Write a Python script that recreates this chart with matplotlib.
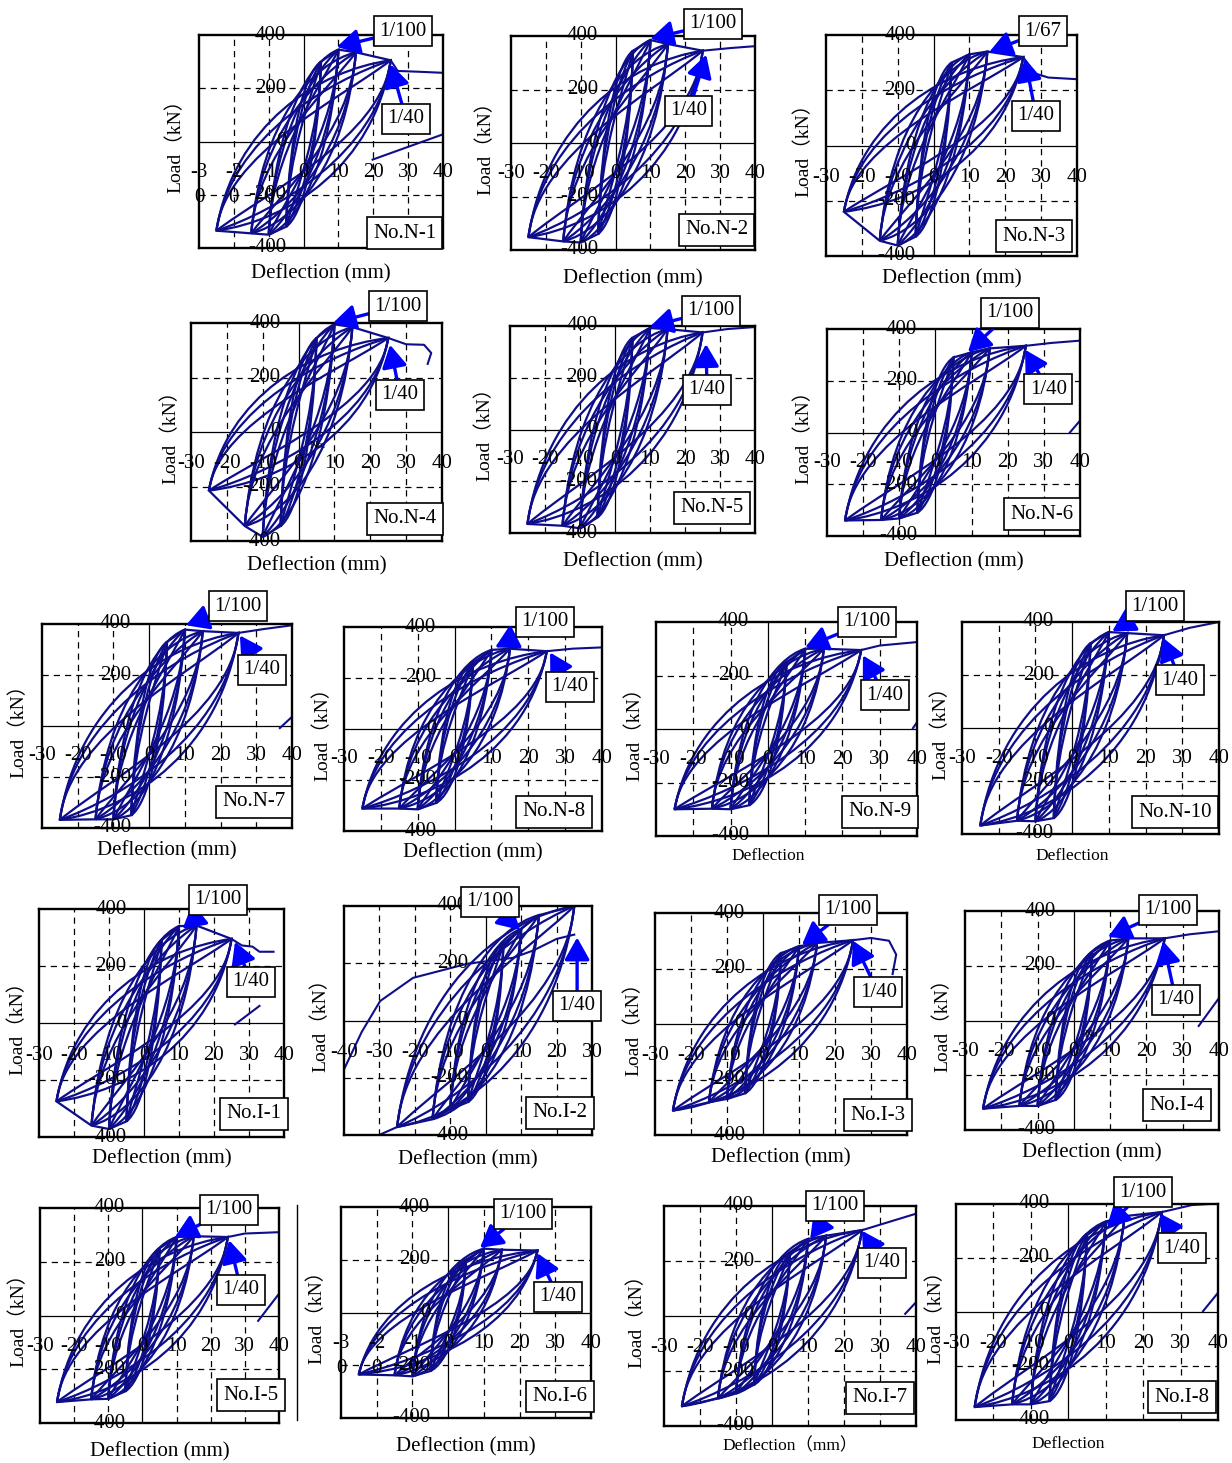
import matplotlib
matplotlib.use("Agg")
import matplotlib.pyplot as plt
from matplotlib.path import Path
from matplotlib.patches import PathPatch

plt.rcParams['font.family'] = ['Liberation Serif', 'Noto Sans CJK SC']

# ---- data ----
specimens = ["N-1", "N-2", "N-3", "N-4", "N-5", "N-6", "N-7", "N-8", "N-9", "N-10",
             "I-1", "I-2", "I-3", "I-4", "I-5", "I-6", "I-7", "I-8"]

peak_disp = [5, 10, 15, 25]        # mm, cycle amplitudes (push and pull)

# peak loads (kN) at +5, +10, +15, +25 mm
pos_load = {
    "N-1": [300, 345, 335, 305], "N-2": [345, 385, 370, 345], "N-3": [300, 330, 340, 320],
    "N-4": [345, 395, 385, 345], "N-5": [355, 392, 388, 375], "N-6": [290, 310, 325, 335],
    "N-7": [330, 378, 372, 365], "N-8": [260, 310, 315, 305], "N-9": [250, 300, 300, 295],
    "N-10": [320, 362, 358, 350], "I-1": [290, 340, 342, 295], "I-2": [270, 320, 368, 400],
    "I-3": [255, 280, 292, 302], "I-4": [250, 292, 300, 300], "I-5": [250, 292, 295, 292],
    "I-6": [200, 242, 238, 235], "I-7": [230, 280, 292, 312], "I-8": [290, 335, 355, 370],
}
# peak loads (kN) at -5, -10, -15, -25 mm
neg_load = {
    "N-1": [-320, -350, -345, -335], "N-2": [-340, -372, -368, -352], "N-3": [-330, -362, -345, -240],
    "N-4": [-345, -385, -345, -215], "N-5": [-340, -382, -372, -365], "N-6": [-310, -332, -338, -340],
    "N-7": [-350, -366, -366, -368], "N-8": [-290, -315, -312, -312], "N-9": [-285, -300, -298, -300],
    "N-10": [-340, -352, -350, -368], "I-1": [-345, -372, -360, -275], "I-2": [-285, -310, -345, -372],
    "I-3": [-250, -270, -282, -312], "I-4": [-290, -312, -312, -322], "I-5": [-282, -310, -312, -322],
    "I-6": [-222, -242, -238, -235], "I-7": [-250, -282, -300, -328], "I-8": [-330, -342, -342, -352],
}
# monotonic push after the cycles and the last unloading branch (mm, kN)
post_curves = {
    "N-1": [[(25, 305), (27, 265), (33, 262), (40, 258)], [(19.8, -68), (40, 27)]],
    "N-2": [[(25, 345), (33, 355), (40, 362)]],
    "N-3": [[(25, 320), (28, 262), (32, 246), (40, 240)]],
    "N-4": [[(25, 345), (30, 322), (35, 320), (37, 290), (36, 250)]],
    "N-5": [[(25, 375), (32, 388), (40, 396)]],
    "N-6": [[(25, 335), (32, 346), (40, 355)], [(37.2, 0), (40, 46)]],
    "N-7": [[(25, 365), (32, 380), (40, 395)], [(36.6, -8), (40, 36)]],
    "N-8": [[(25, 305), (32, 315), (40, 320)]],
    "N-9": [[(25, 295), (30, 312), (40, 325)], [(38.9, 3), (40, 25)]],
    "N-10": [[(25, 350), (32, 378), (40, 400)]],
    "I-1": [[(25, 295), (28, 272), (31, 268), (33, 250), (37, 250)], [(26, -5), (33, 60)]],
    "I-2": [[(-25, -372), (-31, -405)],
            [(-40, -171), (-35, -40), (-29.8, 68), (-20.5, 149), (-5.3, 198), (7.7, 219),
             (13.3, 244), (20, 285), (25, 300)]],
    "I-3": [[(25, 302), (30, 310), (35, 300), (37, 250), (36, 180)]],
    "I-4": [[(25, 300), (32, 315), (40, 326)], [(34.4, -20), (40, 82)]],
    "I-5": [[(25, 292), (30, 305), (40, 310)], [(33.9, -20), (39.7, 76)]],
    "I-6": [],
    "I-7": [[(25, 312), (30, 332), (40, 372)], [(37, 8), (40, 50)]],
    "I-8": [[(25, 370), (33, 396), (40, 402)], [(36, 3), (40, 71)]],
}
# drift-ratio marks: text and the point each arrow points at
small_drift_text = {"N-3": "1/67"}
small_drift_at = {
    "N-1": (9.5, 355), "N-2": (10, 390), "N-3": (15.5, 338), "N-4": (9.6, 400), "N-5": (10, 398),
    "N-6": (9, 311), "N-7": (10.3, 395), "N-8": (11, 320), "N-9": (10, 305), "N-10": (10.9, 365),
    "I-1": (11, 330), "I-2": (9.7, 316), "I-3": (10.8, 285), "I-4": (9.4, 305), "I-5": (9.5, 292),
    "I-6": (8.9, 245), "I-7": (10.6, 280), "I-8": (10.3, 315),
}
large_drift_at = {
    "N-1": (25, 290), "N-2": (26, 330), "N-3": (25.5, 315), "N-4": (25.5, 320), "N-5": (26, 330),
    "N-6": (24.8, 320), "N-7": (25.4, 355), "N-8": (25.9, 300), "N-9": (25.5, 275), "N-10": (24.8, 340),
    "I-1": (26, 285), "I-2": (25.8, 290), "I-3": (25, 300), "I-4": (24.6, 290), "I-5": (25.4, 280),
    "I-6": (25, 225), "I-7": (25, 310), "I-8": (24.5, 365),
}
ytick_vals = [400, 200, 0, -200, -400]
ytick_text = {"I-8": ["400", "200", "0", "-200", "400"]}
xtick_text = {"N-1": {-30: "-3\n0", -20: "-2\n0", -10: "-1\n0"},
              "I-6": {-30: "-3\n0", -20: "-2\n0", -10: "-1\n0"}}
xlabel_text = {"N-9": "Deflection", "N-10": "Deflection", "I-8": "Deflection", "I-7": "Deflection（mm）"}
xlims = {"I-2": (-40, 30)}

# ---- layout (pixels in the 1232x1463 figure) ----
panel_box = {
    "N-1": (199, 35, 443, 248), "N-2": (511, 36, 755, 250), "N-3": (826, 35, 1077, 256),
    "N-4": (191, 323, 442, 541), "N-5": (510, 326, 755, 533), "N-6": (827, 329, 1080, 536),
    "N-7": (42, 624, 292, 828), "N-8": (344, 627, 602, 831), "N-9": (656, 622, 917, 836),
    "N-10": (962, 622, 1219, 834), "I-1": (39, 909, 284, 1137), "I-2": (344, 906, 592, 1135),
    "I-3": (655, 913, 907, 1135), "I-4": (965, 911, 1219, 1130), "I-5": (40, 1208, 279, 1423),
    "I-6": (341, 1207, 591, 1418), "I-7": (664, 1206, 916, 1426), "I-8": (956, 1204, 1218, 1420),
}
ylab_dx = {"N-1": 24, "N-2": 26, "N-3": 23, "N-4": 21, "N-5": 26, "N-6": 24, "N-7": 24, "N-8": 22,
           "N-9": 22, "N-10": 22, "I-1": 22, "I-2": 24, "I-3": 22, "I-4": 23, "I-5": 22, "I-6": 25,
           "I-7": 28, "I-8": 21}
xlab_dy = {"N-1": 26, "N-2": 29, "N-3": 23, "N-4": 25, "N-5": 29, "N-6": 26, "N-7": 23, "N-8": 22,
           "N-9": 20, "N-10": 22, "I-1": 22, "I-2": 25, "I-3": 23, "I-4": 23, "I-5": 29, "I-6": 29,
           "I-7": 20, "I-8": 24}
small_box = {
    "N-1": (28.5, 415), "N-2": (28, 445), "N-3": (30.5, 414), "N-4": (27.7, 462), "N-5": (27.4, 458),
    "N-6": (20.6, 462), "N-7": (24.9, 470), "N-8": (24.5, 420), "N-9": (26.6, 400), "N-10": (22.6, 460),
    "I-1": (21.1, 432), "I-2": (1.2, 414), "I-3": (23.6, 411), "I-4": (25.9, 404), "I-5": (25.4, 393),
    "I-6": (21, 374), "I-7": (17.5, 400), "I-8": (20, 444),
}
large_box = {
    "N-1": (29.4, 85), "N-2": (21, 120), "N-3": (28.6, 107), "N-4": (28.3, 136), "N-5": (26.3, 153),
    "N-6": (31.2, 168), "N-7": (31.6, 220), "N-8": (31.3, 165), "N-9": (31.4, 127), "N-10": (29.4, 181),
    "I-1": (30.6, 144), "I-2": (25.8, 51), "I-3": (32, 115), "I-4": (28.1, 75), "I-5": (28.9, 95),
    "I-6": (30.8, 59), "I-7": (30.6, 193), "I-8": (30.4, 237),
}
name_box = {
    "N-1": (29, -344), "N-2": (29, -325), "N-3": (28, -328), "N-4": (29.7, -319), "N-5": (27.7, -303),
    "N-6": (29.5, -315), "N-7": (29.4, -298), "N-8": (27, -325), "N-9": (30, -310), "N-10": (28, -317),
    "I-1": (31.4, -319), "I-2": (21, -323), "I-3": (32, -328), "I-4": (28.4, -309), "I-5": (31.8, -296),
    "I-6": (31.3, -319), "I-7": (30, -298), "I-8": (30.4, -315),
}

W, H = 1232, 1463
curve_color = "#0e0e8a"
# loop fullness: (steep start, rise, flat end, drop) as fractions of the loop span
loop_shapes = [(0.08, 0.55, 0.35, 0.12), (0.05, 0.45, 0.28, 0.22), (0.1, 0.62, 0.42, 0.06)]


def loop_path(dn, pn, dp, pp, a, b, c, e):
    s = dp - dn
    h = pp - pn
    verts = [(dn, pn), (dn + a * s, pn + b * h), (dp - c * s, pp - e * h), (dp, pp),
             (dp - a * s, pp - b * h), (dn + c * s, pn + e * h), (dn, pn)]
    codes = [Path.MOVETO] + [Path.CURVE4] * 6
    return Path(verts, codes)


fig = plt.figure(figsize=(W / 100, H / 100), dpi=100)

for name in specimens:
    L, T, R, B = panel_box[name]
    ax = fig.add_axes([L / W, 1 - B / H, (R - L) / W, (B - T) / H])
    x0, x1 = xlims.get(name, (-30, 40))
    ax.set_xlim(x0, x1)
    ax.set_ylim(-400, 400)
    ax.set_xticks([])
    ax.set_yticks([])
    for sp in ax.spines.values():
        sp.set_linewidth(1.7)

    # grid: dashed, axes through zero solid
    for xv in range(x0 + 10, x1, 10):
        if xv == 0:
            ax.axvline(0, color='k', lw=0.9, zorder=1)
        else:
            ax.axvline(xv, color='k', lw=0.9, ls=(0, (5, 4)), zorder=1)
    for yv in (-200, 200):
        ax.axhline(yv, color='k', lw=0.9, ls=(0, (5, 4)), zorder=1)
    ax.axhline(0, color='k', lw=0.9, zorder=1)

    # hysteresis loops
    negd = [-d for d in peak_disp]
    for i in range(len(peak_disp)):
        for shp in loop_shapes:
            p = loop_path(negd[i], neg_load[name][i], peak_disp[i], pos_load[name][i], *shp)
            ax.add_patch(PathPatch(p, fill=False, ec=curve_color, lw=1.6, zorder=2))
    ax.plot(peak_disp, pos_load[name], color=curve_color, lw=1.6, zorder=2)
    ax.plot(negd, neg_load[name], color=curve_color, lw=1.6, zorder=2)
    for pts in post_curves[name]:
        ax.plot([q[0] for q in pts], [q[1] for q in pts], color=curve_color, lw=1.5, zorder=2)

    # tick labels sitting on the zero axes
    xt = xtick_text.get(name, {})
    for xv in range(x0, x1 + 1, 10):
        ax.text(xv, -80, xt.get(xv, str(xv)), ha='center', va='top', fontsize=15,
                linespacing=1.45, clip_on=False, zorder=4)
    for yv, lab in zip(ytick_vals, ytick_text.get(name, [str(v) for v in ytick_vals])):
        ax.text(-5, yv, lab, ha='right', va='center', fontsize=15, clip_on=False, zorder=4)

    # axis titles
    ax.text(-ylab_dx[name] / (R - L), 0.5, "Load（kN）", transform=ax.transAxes, rotation=90,
            ha='center', va='center', fontsize=14)
    xl = xlabel_text.get(name, "Deflection (mm)")
    small = name in xlabel_text
    ax.text(0.43 if xl == "Deflection" else 0.5, -xlab_dy[name] / (B - T), xl,
            transform=ax.transAxes, ha='center', va='center', fontsize=12.5 if small else 15)

    # specimen name
    ax.text(*name_box[name], "No." + name, ha='center', va='center', fontsize=15, zorder=6,
            clip_on=False, bbox=dict(boxstyle='square,pad=0.3', fc='white', ec='k', lw=1.2))

    # drift marks
    arrow = dict(arrowstyle='-|>,head_length=0.8,head_width=0.45', color='#0000ff', lw=2.4,
                 mutation_scale=17, shrinkA=0, shrinkB=0)
    tbox = dict(boxstyle='square,pad=0.25', fc='white', ec='k', lw=1.2)
    ax.annotate(small_drift_text.get(name, "1/100"), xy=small_drift_at[name], xytext=small_box[name],
                ha='center', va='center', fontsize=15, bbox=tbox, arrowprops=arrow,
                annotation_clip=False, zorder=7)
    ax.annotate("1/40", xy=large_drift_at[name], xytext=large_box[name],
                ha='center', va='center', fontsize=15, bbox=tbox, arrowprops=arrow,
                annotation_clip=False, zorder=7)

    if name in ("N-4", "I-4"):
        ax.text(5.3, -50, "No.", fontsize=8, ha='center', va='center', zorder=4)

fig.add_artist(plt.Line2D([297 / W, 297 / W], [1 - 1205 / H, 1 - 1420 / H], color='k', lw=1.0))

fig.savefig("out.png", dpi=100)
